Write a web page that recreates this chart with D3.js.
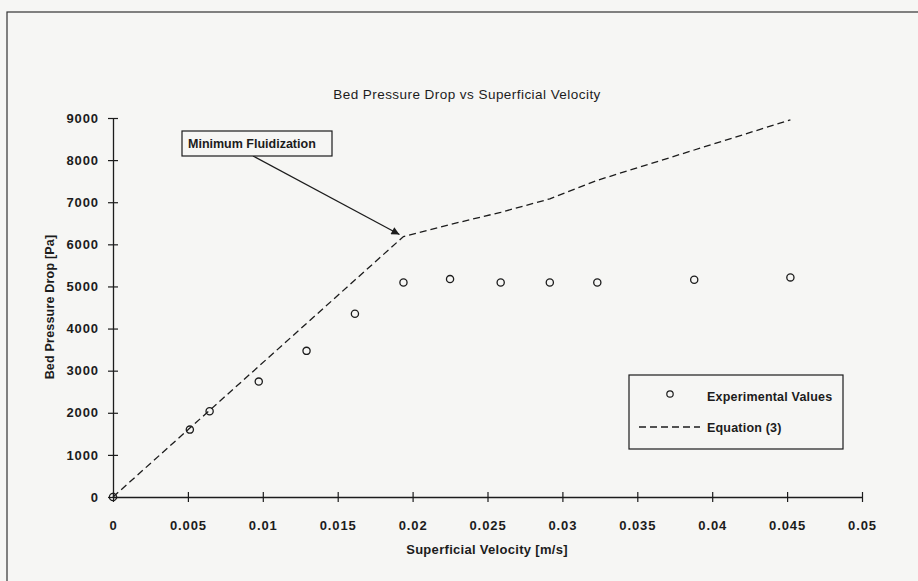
<!DOCTYPE html>
<html>
<head>
<meta charset="utf-8">
<script src="https://cdn.jsdelivr.net/npm/d3@7"></script>
<style>
  body { margin: 0; background: #f6f6f4; }
  svg { display: block; font-family: "Liberation Sans", Arial, sans-serif; }
</style>
</head>
<body>
<div id="chart"></div>
<script>
// data
const velocity = [0, 0.00513, 0.00645, 0.00973, 0.01292, 0.01615, 0.01939, 0.0225, 0.02588, 0.02916, 0.03233, 0.0388, 0.04522];
const measured = [0, 1600, 2035, 2740, 3470, 4350, 5095, 5175, 5095, 5095, 5095, 5160, 5215];
const equation = [0, 1636, 2058, 3104, 4121, 5152, 6186, 6470, 6760, 7080, 7520, 8240, 8955];
const xTicks = [0, 0.005, 0.01, 0.015, 0.02, 0.025, 0.03, 0.035, 0.04, 0.045, 0.05];
const yTicks = [0, 1000, 2000, 3000, 4000, 5000, 6000, 7000, 8000, 9000];

const width = 918;
const height = 581;
const margin = { top: 118, right: 56, bottom: 84, left: 113 };
const ink = '#1c1c1c';

const svg = d3.select('#chart')
  .append('svg')
  .attr('width', width)
  .attr('height', height);

// scanned page frame
svg.append('rect')
  .attr('x', 7).attr('y', 12)
  .attr('width', 930).attr('height', 600)
  .attr('fill', 'none')
  .attr('stroke', '#333')
  .attr('stroke-width', 1.2);

const x = d3.scaleLinear([0, 0.05], [margin.left, width - margin.right]);
const y = d3.scaleLinear([0, 9000], [height - margin.bottom, margin.top]);

// title
svg.append('text')
  .attr('x', 467).attr('y', 99)
  .attr('text-anchor', 'middle')
  .attr('font-size', 13.5)
  .attr('fill', ink)
  .style('letter-spacing', '0.45px')
  .text('Bed Pressure Drop vs Superficial Velocity');

// axes
const axisX = d3.axisBottom(x)
  .tickValues(xTicks)
  .tickFormat(d => d === 0 ? '0' : String(+d.toFixed(3)))
  .tickSize(5)
  .tickSizeOuter(0)
  .tickPadding(19);

const axisY = d3.axisLeft(y)
  .tickValues(yTicks)
  .tickFormat(d3.format('d'))
  .tickSize(5)
  .tickSizeOuter(0)
  .tickPadding(9);

const gx = svg.append('g')
  .attr('transform', `translate(0, ${y(0)})`)
  .call(axisX);

const gy = svg.append('g')
  .attr('transform', `translate(${x(0)}, 0)`)
  .call(axisY);

[gx, gy].forEach(g => {
  g.select('.domain').attr('stroke', ink).attr('stroke-width', 1.3);
  g.selectAll('.tick line').attr('stroke', ink).attr('stroke-width', 1.2);
  g.selectAll('.tick text')
    .attr('fill', ink)
    .attr('font-size', 13)
    .attr('font-weight', 'bold')
    .style('letter-spacing', '0.9px');
});

// ticks cross the axis line
gx.selectAll('.tick line').attr('y1', -5).attr('y2', 5);
gy.selectAll('.tick line').attr('x1', -5).attr('x2', 5);

// axis titles
svg.append('text')
  .attr('x', 487).attr('y', 554)
  .attr('text-anchor', 'middle')
  .attr('font-size', 13)
  .attr('font-weight', 'bold')
  .attr('fill', ink)
  .style('letter-spacing', '0.3px')
  .text('Superficial Velocity [m/s]');

svg.append('text')
  .attr('transform', 'translate(54, 307) rotate(-90)')
  .attr('text-anchor', 'middle')
  .attr('font-size', 12.5)
  .attr('font-weight', 'bold')
  .attr('fill', ink)
  .style('letter-spacing', '0.2px')
  .text('Bed Pressure Drop [Pa]');

// equation line
const line = d3.line()
  .x((d, i) => x(velocity[i]))
  .y(d => y(d));

svg.append('path')
  .datum(equation)
  .attr('d', line)
  .attr('fill', 'none')
  .attr('stroke', ink)
  .attr('stroke-width', 1.3)
  .attr('stroke-dasharray', '7 4');

// experimental points
svg.append('g')
  .selectAll('circle')
  .data(measured)
  .join('circle')
  .attr('cx', (d, i) => x(velocity[i]))
  .attr('cy', d => y(d))
  .attr('r', 3.6)
  .attr('fill', 'none')
  .attr('stroke', ink)
  .attr('stroke-width', 1.3);

// annotation
svg.append('defs')
  .append('marker')
  .attr('id', 'arrow')
  .attr('viewBox', '0 0 10 10')
  .attr('refX', 10).attr('refY', 5)
  .attr('markerWidth', 12).attr('markerHeight', 8)
  .attr('markerUnits', 'userSpaceOnUse')
  .attr('orient', 'auto')
  .append('path')
  .attr('d', 'M0,0 L10,5 L0,10 Z')
  .attr('fill', ink);

svg.append('line')
  .attr('x1', 253).attr('y1', 156)
  .attr('x2', x(velocity[6]) - 4).attr('y2', y(equation[6]) - 2)
  .attr('stroke', ink)
  .attr('stroke-width', 1.2)
  .attr('marker-end', 'url(#arrow)');

svg.append('rect')
  .attr('x', 182).attr('y', 131)
  .attr('width', 150).attr('height', 25)
  .attr('fill', '#f6f6f4')
  .attr('stroke', ink)
  .attr('stroke-width', 1.2);

svg.append('text')
  .attr('x', 188).attr('y', 148)
  .attr('font-size', 12.5)
  .attr('font-weight', 'bold')
  .attr('fill', ink)
  .text('Minimum Fluidization');

// legend
const legend = svg.append('g');
legend.append('rect')
  .attr('x', 629).attr('y', 375)
  .attr('width', 214).attr('height', 74)
  .attr('fill', '#f6f6f4')
  .attr('stroke', ink)
  .attr('stroke-width', 1.2);

legend.append('circle')
  .attr('cx', 670).attr('cy', 394)
  .attr('r', 3.2)
  .attr('fill', 'none')
  .attr('stroke', ink)
  .attr('stroke-width', 1.2);

legend.append('text')
  .attr('x', 707).attr('y', 401)
  .attr('font-size', 12.5)
  .attr('font-weight', 'bold')
  .attr('fill', ink)
  .style('letter-spacing', '0.2px')
  .text('Experimental Values');

legend.append('line')
  .attr('x1', 639).attr('x2', 700)
  .attr('y1', 427).attr('y2', 427)
  .attr('stroke', ink)
  .attr('stroke-width', 1.3)
  .attr('stroke-dasharray', '7 4');

legend.append('text')
  .attr('x', 707).attr('y', 432)
  .attr('font-size', 12.5)
  .attr('font-weight', 'bold')
  .attr('fill', ink)
  .style('letter-spacing', '0.2px')
  .text('Equation  (3)');
</script>
</body>
</html>
